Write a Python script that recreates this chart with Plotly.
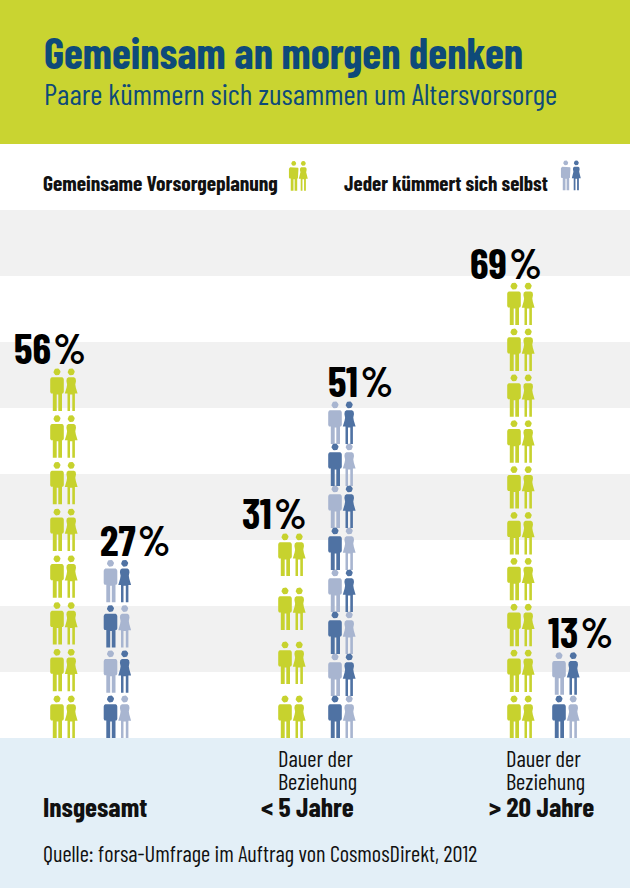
import math
import plotly.graph_objects as go

# ---- data ----
groups = ["Insgesamt", "< 5 Jahre", "> 20 Jahre"]
joint_values = [56, 31, 69]
joint_rows = [8, 4, 10]
separate_values = [27, 51, 13]
separate_rows = [4, 8, 2]
title_text = "Gemeinsam an morgen denken"
subtitle_text = "Paare kümmern sich zusammen um Altersvorsorge"
legend_joint = "Gemeinsame Vorsorgeplanung"
legend_separate = "Jeder kümmert sich selbst"
source_text = "Quelle: forsa-Umfrage im Auftrag von CosmosDirekt, 2012"
duration_lines = ["Dauer der", "Beziehung"]

# ---- layout / style ----
W, H = 630, 888
BASE_PX, PX_PER_PCT = 738, 6.6
GREEN, LIGHT, DARK = "#c7d22e", "#a8b5d0", "#4f72a3"
STRIPE, HEADER, FOOTER = "#f1f1f1", "#c9d431", "#e3eff7"
NAVY = "#0e4a79"
NARROW = "'Barlow Condensed', 'Liberation Sans', sans-serif"
PERSON_H = 42.5
joint_x = [64, 292, 521]
separate_x = [117.5, 342, 566]
joint_label_x = [50, 274, 506]
separate_label_x = [135, 360, 580]

def y_of(px):
    return (BASE_PX - px) / PX_PER_PCT

HEAD_N = 24
def head(cx):
    return [(cx + 3.5 * math.cos(2 * math.pi * k / HEAD_N), 3.5 + 3.5 * math.sin(2 * math.pi * k / HEAD_N))
            for k in range(HEAD_N + 1)]

MAN = [(-5.2, 8.8), (5.2, 8.8), (6.3, 9.6), (6.8, 11), (6.8, 23.5), (6.0, 25), (5.0, 25), (5.0, 42.5),
       (1.3, 42.5), (1.3, 26), (-0.3, 26), (-0.3, 42.5), (-4.2, 42.5), (-4.2, 25), (-6.0, 25), (-6.8, 23.5),
       (-6.8, 11), (-6.3, 9.6), (-5.2, 8.8)]
WOMAN = [(-2.8, 8.8), (2.8, 8.8), (4.4, 10), (4.8, 12.5), (4.1, 16), (4.6, 19), (6.4, 25.2), (3.7, 25.2),
         (3.7, 42.5), (1.1, 42.5), (1.1, 26), (-1.2, 26), (-1.2, 42.5), (-3.7, 42.5), (-3.7, 25.2), (-6.4, 25.2),
         (-4.6, 19), (-4.1, 16), (-4.8, 12.5), (-4.4, 10), (-2.8, 8.8)]

class Pen:
    def __init__(self):
        self.x, self.y = [], []
    def poly(self, pts, cx, top, scale=1.0):
        for dx, dy in pts:
            self.x.append(cx + dx * scale)
            self.y.append(y_of(top + dy * scale))
        self.x.append(None)
        self.y.append(None)
    def person(self, kind, cx, top, scale=1.0):
        self.poly(head(0), cx, top, scale)
        self.poly(MAN if kind == "m" else WOMAN, cx, top, scale)

pens = {GREEN: Pen(), LIGHT: Pen(), DARK: Pen()}

def column(value, rows, centre, alternate):
    top_px = BASE_PX - value * PX_PER_PCT
    bottom_px = BASE_PX - PERSON_H
    step = (bottom_px - top_px) / (rows - 1)
    for i in range(rows):
        top = bottom_px - i * step
        if alternate:
            man_c, woman_c = (DARK, LIGHT) if i % 2 == 0 else (LIGHT, DARK)
        else:
            man_c, woman_c = GREEN, GREEN
        pens[man_c].person("m", centre - 7.0, top)
        pens[woman_c].person("w", centre + 7.2, top)

for v, r, c in zip(joint_values, joint_rows, joint_x):
    column(v, r, c, False)
for v, r, c in zip(separate_values, separate_rows, separate_x):
    column(v, r, c, True)

# legend icons
pens[GREEN].person("m", 293.7, 161, 0.7)
pens[GREEN].person("w", 303.3, 161, 0.7)
pens[LIGHT].person("m", 565.7, 160.5, 0.7)
pens[DARK].person("w", 576.3, 160.5, 0.7)

fig = go.Figure()
for colour, pen in pens.items():
    fig.add_trace(go.Scatter(x=pen.x, y=pen.y, mode="lines", fill="toself", fillcolor=colour,
                             line=dict(color=colour, width=0), hoverinfo="skip", showlegend=False))

shapes = [
    dict(type="rect", xref="paper", yref="paper", x0=0, x1=1, y0=1 - 144 / H, y1=1,
         fillcolor=HEADER, line_width=0, layer="below"),
    dict(type="rect", xref="paper", yref="paper", x0=0, x1=1, y0=0, y1=1 - BASE_PX / H,
         fillcolor=FOOTER, line_width=0, layer="below"),
]
for low in (10, 30, 50, 70):
    shapes.append(dict(type="rect", xref="paper", yref="y", x0=0, x1=1, y0=low, y1=low + 10,
                       fillcolor=STRIPE, line_width=0, layer="below"))

def text(s, x, base_px, size, color="#111111", bold=False, anchor="left", family=NARROW):
    """Place text so its baseline is at pixel row base_px."""
    lbl = f"<b>{s}</b>" if bold else s
    return dict(text=lbl, x=x, y=y_of(base_px), xref="x", yref="y", xanchor=anchor, yanchor="bottom",
                yshift=-round(size * 0.19), showarrow=False, align="left",
                font=dict(family=family, size=size, color=color), borderpad=0, borderwidth=0)

ann = [
    text(title_text, 44, 70, 43.2, NAVY, True),
    text(subtitle_text, 44, 105, 29.7, NAVY),
    text(legend_joint, 43, 191, 21.4, bold=True),
    text(legend_separate, 344, 191, 21, bold=True),
    text(groups[0], 43, 818, 27.5, bold=True),
    text(groups[1], 261, 818, 27.5, bold=True),
    text(groups[2], 489, 818, 27.5, bold=True),
    text(duration_lines[0], 278, 768, 22.5),
    text(duration_lines[1], 278, 791, 22.5),
    text(duration_lines[0], 506, 768, 22.5),
    text(duration_lines[1], 506, 791, 22.5),
    text(source_text, 43, 863, 22.4),
]
for v, x in zip(joint_values + separate_values, joint_label_x + separate_label_x):
    ann.append(text(f"{v}\u200a%", x, BASE_PX - v * PX_PER_PCT - 4, 42, "#000000", True, "center"))

fig.update_layout(
    width=W, height=H, margin=dict(l=0, r=0, t=0, b=0),
    paper_bgcolor="white", plot_bgcolor="rgba(0,0,0,0)", showlegend=False,
    xaxis=dict(range=[0, W], visible=False, fixedrange=True),
    yaxis=dict(range=[y_of(H), y_of(0)], visible=False, fixedrange=True),
    shapes=shapes, annotations=ann,
)
fig.write_html("out.html", config={"displayModeBar": False},
               post_script="document.body.style.margin='0';")
